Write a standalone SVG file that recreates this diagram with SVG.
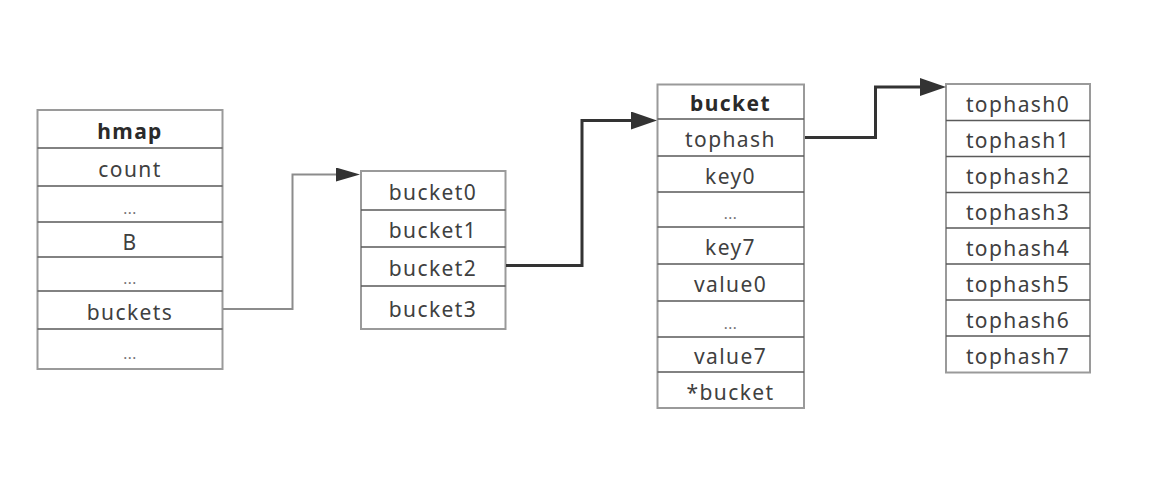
<svg xmlns="http://www.w3.org/2000/svg" width="1166" height="478" viewBox="0 0 1166 478">
<defs>
<style>
.box{fill:#fff;stroke:#9a9a9a;stroke-width:2}
.sep{stroke:#5a5a5a;stroke-width:1.6;fill:none}
.t{font-family:"Noto Sans","Open Sans","DejaVu Sans",sans-serif;font-size:21px;fill:#404040;text-anchor:middle;letter-spacing:1.4px}
.b{font-weight:bold;fill:#2a2a2a}
.d{font-size:15px;fill:#707070;letter-spacing:0.5px}
.c1{fill:none;stroke:#8c8c8c;stroke-width:2}
.c2{fill:none;stroke:#333;stroke-width:3}
</style>
<marker id="ahs" viewBox="0 0 24 14" refX="0" refY="7" markerWidth="24" markerHeight="14" markerUnits="userSpaceOnUse" orient="auto"><path d="M0,0 L24,7 L0,14 z" fill="#333"/></marker>
<marker id="ahl" viewBox="0 0 26 18" refX="0" refY="9" markerWidth="26" markerHeight="18" markerUnits="userSpaceOnUse" orient="auto"><path d="M0,0 L26,9 L0,18 z" fill="#333"/></marker>
</defs>
<rect width="1166" height="478" fill="#fff"/>

<g id="hmap">
<rect class="box" x="37.5" y="110" width="185" height="259"/>
<path class="sep" d="M37.5,148H222.5M37.5,186H222.5M37.5,222H222.5M37.5,257H222.5M37.5,291H222.5M37.5,329H222.5"/>
<text class="t b" x="130" y="139">hmap</text>
<text class="t" x="130" y="177">count</text>
<text class="t d" x="130" y="214">...</text>
<text class="t" x="130" y="250">B</text>
<text class="t d" x="130" y="284">...</text>
<text class="t" x="130" y="320">buckets</text>
<text class="t d" x="130" y="359">...</text>
</g>

<g id="buckets">
<rect class="box" x="361" y="171" width="144.5" height="158"/>
<path class="sep" d="M361,210H505.5M361,247H505.5M361,286H505.5"/>
<text class="t" x="433" y="200">bucket0</text>
<text class="t" x="433" y="238">bucket1</text>
<text class="t" x="433" y="276">bucket2</text>
<text class="t" x="433" y="317">bucket3</text>
</g>

<g id="bucket">
<rect class="box" x="657.5" y="84.5" width="146.5" height="323.5"/>
<path class="sep" d="M657.5,119H804M657.5,156H804M657.5,192H804M657.5,227H804M657.5,264H804M657.5,301H804M657.5,337H804M657.5,372H804"/>
<text class="t b" x="730.5" y="111">bucket</text>
<text class="t" x="730.5" y="147">tophash</text>
<text class="t" x="730.5" y="184">key0</text>
<text class="t d" x="730.5" y="219">...</text>
<text class="t" x="730.5" y="255">key7</text>
<text class="t" x="730.5" y="292">value0</text>
<text class="t d" x="730.5" y="329">...</text>
<text class="t" x="730.5" y="364">value7</text>
<text class="t" x="730.5" y="400">*bucket</text>
</g>

<g id="tophash">
<rect class="box" x="946" y="84" width="144" height="288.5"/>
<path class="sep" d="M946,120.5H1090M946,156.5H1090M946,192.5H1090M946,228H1090M946,264H1090M946,300H1090M946,336H1090"/>
<text class="t" x="1018" y="112">tophash0</text>
<text class="t" x="1018" y="148">tophash1</text>
<text class="t" x="1018" y="184">tophash2</text>
<text class="t" x="1018" y="220">tophash3</text>
<text class="t" x="1018" y="256">tophash4</text>
<text class="t" x="1018" y="292">tophash5</text>
<text class="t" x="1018" y="328">tophash6</text>
<text class="t" x="1018" y="364">tophash7</text>
</g>

<g id="connectors">
<path class="c1" d="M223,309H292.5V174.5H336" marker-end="url(#ahs)"/>
<path class="c2" d="M506,265.5H582V120.5H631" marker-end="url(#ahl)"/>
<path class="c2" d="M805,137.5H875.5V87H920" marker-end="url(#ahl)"/>
</g>
</svg>
